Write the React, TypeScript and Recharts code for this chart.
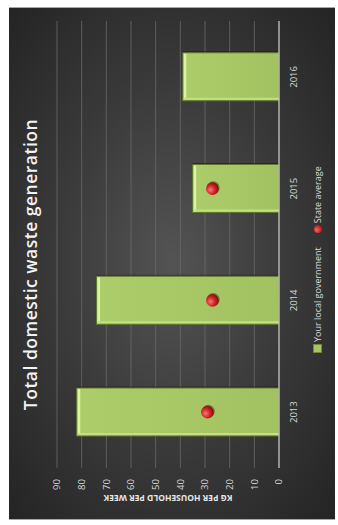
import { Bar, CartesianGrid, ComposedChart, Legend, Line, XAxis, YAxis } from "recharts";

const years = ["2013", "2014", "2015", "2016"];
const localGovernment = [82, 74, 35, 39];
const stateAverage: (number | null)[] = [29, 27, 27, null];
const valueTicks = [0, 10, 20, 30, 40, 50, 60, 70, 80, 90];

const data = years.map((year, i) => ({
  year,
  local: localGovernment[i],
  state: stateAverage[i],
}));

// the source picture is the chart turned a quarter to the left, so the chart is
// drawn in its own frame and the whole frame is rotated
const W = 513;
const H = 326;
const FONT = "'Open Sans', sans-serif";

function BevelBar(props: any) {
  const { x, y, width, height } = props;
  if (!height || height <= 0) return null;
  return (
    <g>
      <rect x={x + 1.5} y={y - 0.5} width={width} height={height + 0.5} fill="#151515" opacity={0.55} />
      <rect x={x} y={y} width={width} height={height} fill="url(#barFill)" stroke="#62782f" strokeWidth={1} />
      <rect x={x + 1} y={y + 1} width={width - 2} height={2.5} fill="#dcf5a4" />
      <rect x={x + 1} y={y + 1} width={2} height={height - 1} fill="#c4e082" />
    </g>
  );
}

function RedDot(props: any) {
  const { cx, cy, value } = props;
  if (value == null || cx == null || cy == null) return null;
  return (
    <g>
      <circle cx={cx + 0.8} cy={cy + 0.8} r={6.5} fill="#111" opacity={0.4} />
      <circle cx={cx} cy={cy} r={6.3} fill="url(#dotFill)" />
    </g>
  );
}

function AxisTitle(props: any) {
  const vb = props.viewBox || { x: 0, y: 48, width: 53, height: 222 };
  const x = vb.x + 22.5;
  const y = vb.y + vb.height / 2;
  return (
    <text
      x={x}
      y={y}
      transform={`rotate(-90, ${x}, ${y})`}
      textAnchor="middle"
      dominantBaseline="central"
      fill="#e6e6e6"
      fontFamily={FONT}
      fontWeight={700}
      fontSize={8.5}
    >
      KG PER HOUSEHOLD PER WEEK
    </text>
  );
}

function LegendBox() {
  const text = { color: "#d9d9d9", fontSize: 9, fontFamily: FONT, whiteSpace: "nowrap" as const };
  return (
    <div style={{ display: "flex", alignItems: "center" }}>
      <span style={{ width: 7, height: 7, background: "#a6c564", border: "1px solid #6f8a3c", marginRight: 2 }} />
      <span style={text}>Your local government</span>
      <span
        style={{
          width: 8,
          height: 8,
          borderRadius: "50%",
          background: "radial-gradient(circle at 40% 35%, #f26a6a, #c41f1f 60%, #7a0b0b)",
          marginLeft: 14,
          marginRight: 2,
        }}
      />
      <span style={text}>State average</span>
    </div>
  );
}

export default function App() {
  return (
    <div
      style={{
        position: "absolute",
        left: 9,
        top: 7,
        width: H,
        height: W,
        overflow: "hidden",
        background: "radial-gradient(ellipse at 50% 50%, #545454 0%, #3a3a3a 50%, #242424 100%)",
        borderTop: "1px solid #a8a8a8",
        borderBottom: "1px solid #a8a8a8",
        boxSizing: "border-box",
      }}
    >
      <div
        style={{
          position: "absolute",
          left: 0,
          top: 0,
          width: W,
          height: H,
          transformOrigin: "0 0",
          transform: `translateY(${W}px) rotate(-90deg)`,
        }}
      >
        <div
          style={{
            position: "absolute",
            top: 13,
            left: 0,
            width: W,
            textAlign: "center",
            fontFamily: FONT,
            fontWeight: 600,
            fontSize: 17.5,
            lineHeight: "17px",
            letterSpacing: 0.5,
            color: "#f2f2f2",
          }}
        >
          Total domestic waste generation
        </div>
        <ComposedChart width={W} height={H} data={data} margin={{ top: 48, right: 13, bottom: 26, left: 0 }}>
          <defs>
            <linearGradient id="barFill" x1="0" y1="0" x2="0" y2="1">
              <stop offset="0%" stopColor="#adcc6a" />
              <stop offset="100%" stopColor="#a2c160" />
            </linearGradient>
            <radialGradient id="dotFill" cx="40%" cy="35%" r="65%">
              <stop offset="0%" stopColor="#f47a7a" />
              <stop offset="55%" stopColor="#d02424" />
              <stop offset="100%" stopColor="#860c0c" />
            </radialGradient>
          </defs>
          <CartesianGrid vertical={false} stroke="#6a6a6a" strokeWidth={0.8} />
          <XAxis
            dataKey="year"
            height={30}
            tickSize={0}
            tickMargin={11}
            tickLine={false}
            axisLine={{ stroke: "#c4c4c4", strokeWidth: 1.2 }}
            tick={{ fill: "#d6d6d6", fontSize: 9.5, fontFamily: FONT }}
          />
          <YAxis
            domain={[0, 90]}
            ticks={valueTicks}
            interval={0}
            width={53}
            tickSize={0}
            tickMargin={11}
            tickLine={false}
            axisLine={false}
            tick={{ fill: "#d6d6d6", fontSize: 9.5, fontFamily: FONT }}
            label={<AxisTitle />}
          />
          <Legend
            verticalAlign="middle"
            layout="horizontal"
            wrapperStyle={{ top: 302, left: 168, width: 210 }}
            content={() => <LegendBox />}
          />
          <Bar dataKey="local" name="Your local government" barSize={48} shape={<BevelBar />} isAnimationActive={false} />
          <Line
            dataKey="state"
            name="State average"
            stroke="none"
            legendType="circle"
            dot={<RedDot />}
            activeDot={false}
            isAnimationActive={false}
          />
        </ComposedChart>
      </div>
    </div>
  );
}
